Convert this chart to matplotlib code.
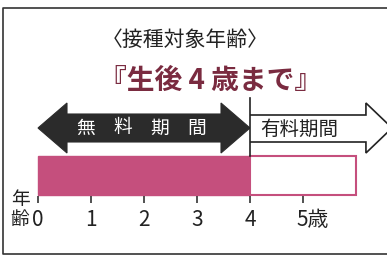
import numpy as np
import matplotlib.pyplot as plt
from matplotlib.patches import Polygon

plt.rcParams['font.family'] = ['Noto Sans CJK JP', 'DejaVu Sans']

# data
ages = [0, 1, 2, 3, 4, 5]
age_labels = ["0", "1", "2", "3", "4", "5歳"]
free_period = (0, 4)      # 無料期間
paid_period = (4, 6)      # 有料期間 (bar)
paid_arrow_end = 6.68
free_chars = ["無", "料", "期", "間"]
paid_label = "有料期間"
title = "〈接種対象年齢〉"
subtitle = "『生後 4 歳まで』"

pink = "#c54f7d"
maroon = "#7a2b40"
dark = "#2b2b2b"

# pixel layout: x axis in years (53 px per year, 0 at x=38), y in pixels
px_per_year = 53.0
x0_px = 38.0

fig = plt.figure(figsize=(3.87, 2.58), dpi=100)
ax = fig.add_axes([0, 0, 1, 1])
ax.set_xlim(-x0_px / px_per_year, (387 - x0_px) / px_per_year)
ax.set_ylim(258, 0)
ax.axis('off')

def yr(px):
    return px / px_per_year

# frame (right side cut off)
ax.plot([yr(390), yr(3 - x0_px), yr(3 - x0_px), yr(390)],
        [7.5, 7.5, 253.5, 253.5], color="#333333", lw=1.2, clip_on=False)

ax.text(yr(185 - x0_px), 40, title, ha='center', va='center', fontsize=15, color="#222222")
ax.text(yr(211 - x0_px), 81, subtitle, ha='center', va='center', fontsize=20,
        fontweight='bold', color=maroon)

# double arrow for free period
hl = yr(29)
a, b = free_period
yc, bt, bb, ht, hb = 128, 114, 142, 103, 153
verts = [(a, yc), (a + hl, ht), (a + hl, bt), (b - hl, bt), (b - hl, ht), (b, yc),
         (b - hl, hb), (b - hl, bb), (a + hl, bb), (a + hl, hb)]
ax.add_patch(Polygon(verts, closed=True, facecolor=dark, edgecolor=dark, lw=0.8))
for x, ch in zip(np.linspace(0.9, 3.0, len(free_chars)), free_chars):
    ax.text(x, 128, ch, ha='center', va='center', fontsize=13.5, color='white')

# open arrow for paid period
c = paid_period[0]
hb_x = paid_arrow_end - hl * 0.9
ax.add_patch(Polygon([(c, 115), (hb_x, 115), (hb_x, 103), (paid_arrow_end, 128),
                      (hb_x, 153), (hb_x, 142), (c, 142)], closed=False,
                     facecolor='white', edgecolor="#222222", lw=1.2, clip_on=False))
ax.plot([c, c], [98, 156], color="#222222", lw=1.2)
ax.text(yr(299 - x0_px), 129, paid_label, ha='center', va='center', fontsize=14, color="#222222")

# bars
ax.barh(175.5, free_period[1] - free_period[0], left=free_period[0], height=39,
        color=pink, edgecolor=pink, lw=1)
ax.barh(175.5, paid_period[1] - paid_period[0], left=paid_period[0], height=39,
        color='white', edgecolor=pink, lw=1.5)

# age axis ticks
ax.vlines(ages, 196, 203, color="#333333", lw=1.2)
for x, lab in zip(ages, age_labels):
    ha = 'left' if lab.endswith("歳") else 'center'
    xx = x - yr(7) if ha == 'left' else x
    ax.text(xx, 220, lab, ha=ha, va='center', fontsize=15, color="#222222")
ax.text(yr(20 - x0_px), 200, "年", ha='center', va='center', fontsize=13.5, color="#222222")
ax.text(yr(20 - x0_px), 220, "齢", ha='center', va='center', fontsize=13.5, color="#222222")

fig.savefig("out.png", dpi=100)
